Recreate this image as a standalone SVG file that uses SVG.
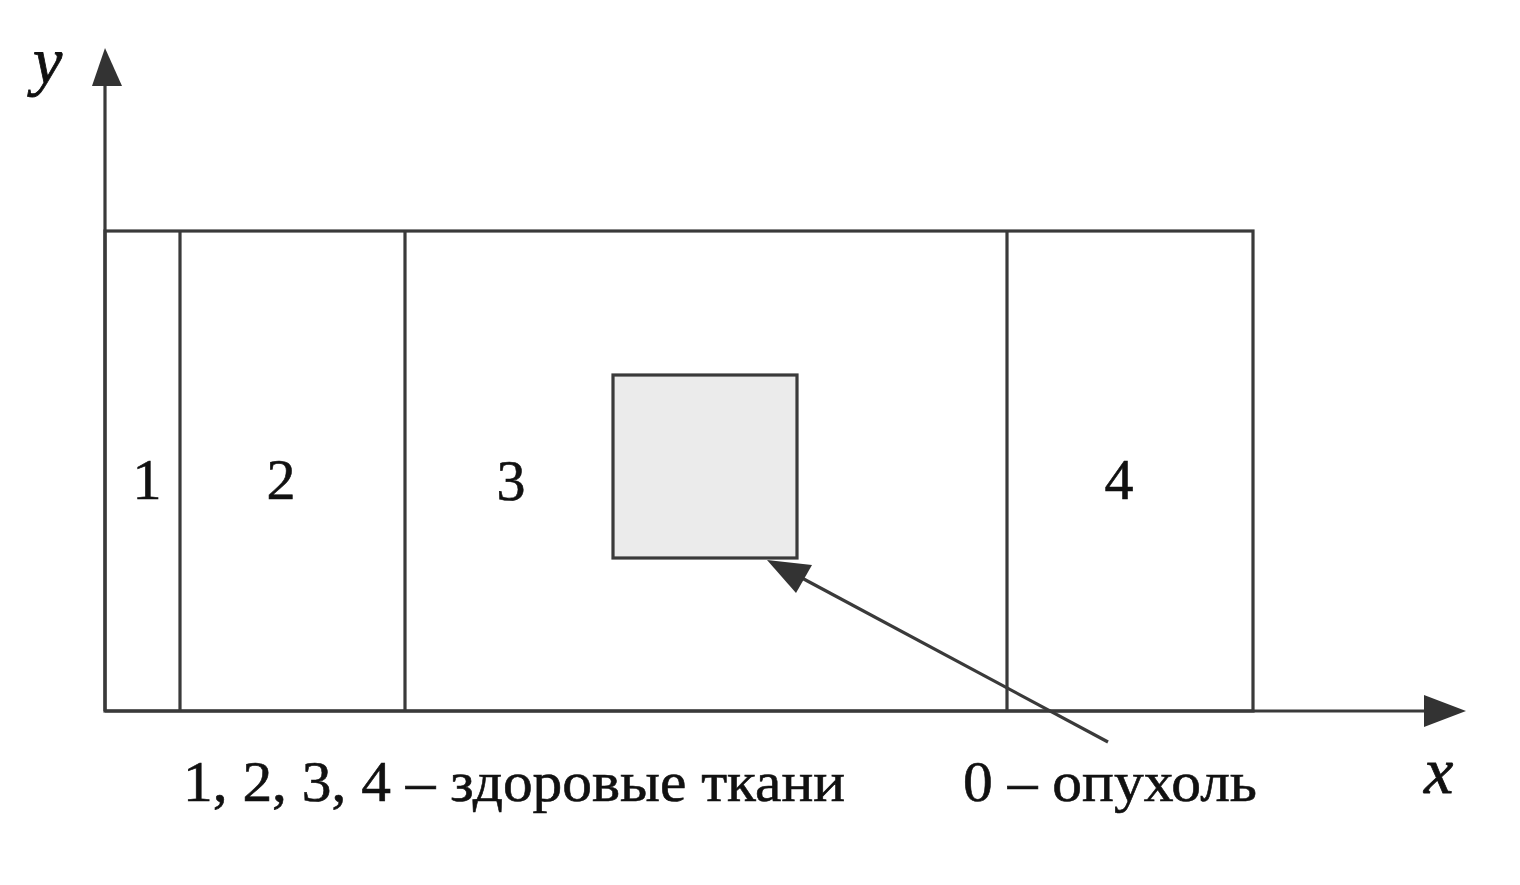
<svg xmlns="http://www.w3.org/2000/svg" width="1520" height="885" viewBox="0 0 1520 885">
<style>
.ln{stroke:#3a3a3a;stroke-width:3.2;fill:none}
.lbl{font-family:"Liberation Serif","DejaVu Serif",serif;font-size:58px;fill:#111;stroke:#111;stroke-width:0.6}
.it{font-family:"Liberation Serif","DejaVu Serif",serif;font-style:italic;font-size:66px;fill:#111;stroke:#111;stroke-width:0.8}
.ah{fill:#333}
</style>
<rect width="1520" height="885" fill="#fff"/>
<g id="axes">
<line class="ln" x1="105" y1="711" x2="105" y2="84"/>
<polygon class="ah" points="105,48 92,86 122,86"/>
<line class="ln" x1="105" y1="711" x2="1428" y2="711"/>
<polygon class="ah" points="1466,711 1424,695 1424,727"/>
<text class="it" x="33" y="83">y</text>
<text class="it" x="1424" y="793">x</text>
</g>
<g id="tissues">
<rect class="ln" x="105" y="231" width="1148" height="480"/>
<line class="ln" x1="180" y1="231" x2="180" y2="711"/>
<line class="ln" x1="405" y1="231" x2="405" y2="711"/>
<line class="ln" x1="1007" y1="231" x2="1007" y2="711"/>
</g>
<g id="labels">
<text class="lbl" x="147" y="499" text-anchor="middle">1</text>
<text class="lbl" x="281" y="499" text-anchor="middle">2</text>
<text class="lbl" x="511" y="500" text-anchor="middle">3</text>
<text class="lbl" x="1119" y="499" text-anchor="middle">4</text>
</g>
<g id="tumor">
<rect x="613" y="375" width="184" height="183" fill="#ebebeb" stroke="#3a3a3a" stroke-width="3.2"/>
</g>
<g id="connectors">
<line class="ln" x1="1108" y1="742" x2="800" y2="577"/>
<polygon class="ah" points="767,560 812,565 796,593"/>
</g>
<g id="legend">
<text class="lbl" x="183" y="801" textLength="662" lengthAdjust="spacingAndGlyphs">1, 2, 3, 4 – здоровые ткани</text>
<text class="lbl" x="963" y="801" textLength="294" lengthAdjust="spacingAndGlyphs">0 – опухоль</text>
</g>
</svg>
